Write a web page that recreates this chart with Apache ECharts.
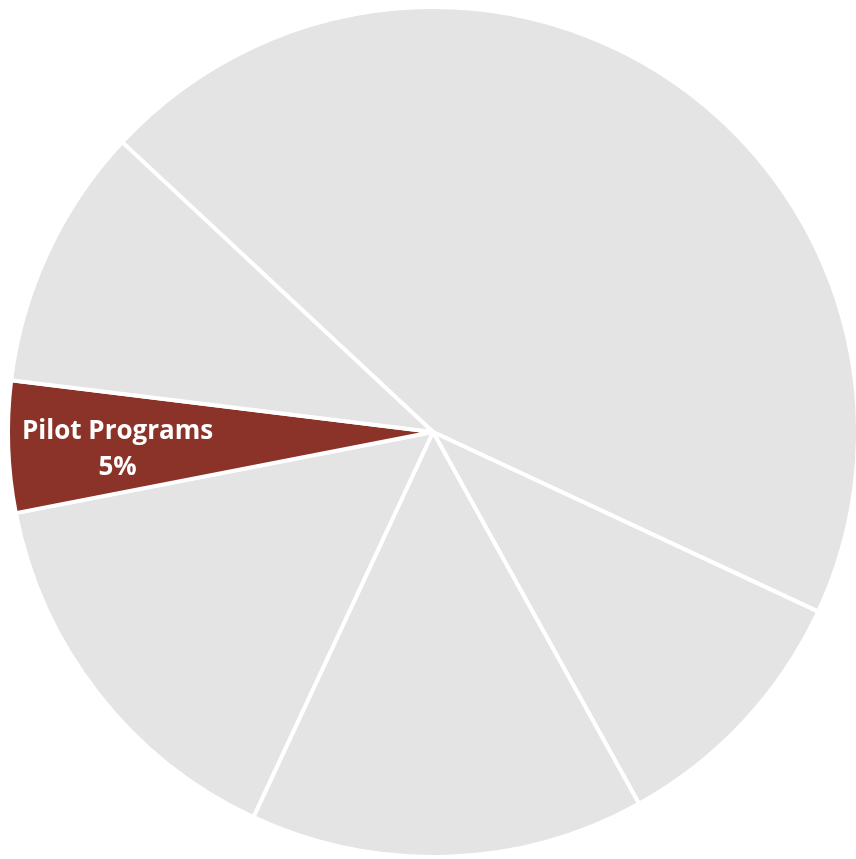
<!DOCTYPE html>
<html>
<head>
<meta charset="utf-8">
<script src="https://cdn.jsdelivr.net/npm/echarts@6/dist/echarts.min.js"></script>
<style>
  html, body { margin: 0; padding: 0; background: #fff; }
  #chart { width: 856px; height: 859px; }
</style>
</head>
<body>
<div id="chart"></div>
<script>
  // slices in clockwise order, starting from the large top slice
  var names = ['Core Operations', 'Research', 'Outreach', 'Training', 'Pilot Programs', 'Administration'];
  var values = [45, 10, 15, 15, 5, 10];
  var highlight = 'Pilot Programs';

  var chart = echarts.init(document.getElementById('chart'));

  var pieData = names.map(function (n, i) {
    var isHi = n === highlight;
    return {
      name: n,
      value: values[i],
      itemStyle: { color: isHi ? '#8C3329' : '#E4E4E4' },
      label: {
        show: isHi,
        position: 'inside',
        offset: [-100, 10],
        formatter: '{b}\n{d}%',
        color: '#fff',
        fontFamily: 'Open Sans',
        fontWeight: 'bold',
        fontSize: 26,
        lineHeight: 36
      }
    };
  });

  chart.setOption({
    animation: false,
    series: [{
      type: 'pie',
      center: [433, 432],
      radius: [0, 425],
      startAngle: 137,
      clockwise: true,
      avoidLabelOverlap: false,
      labelLine: { show: false },
      itemStyle: { borderColor: '#fff', borderWidth: 4 },
      emphasis: { disabled: true },
      data: pieData
    }]
  });
</script>
</body>
</html>
